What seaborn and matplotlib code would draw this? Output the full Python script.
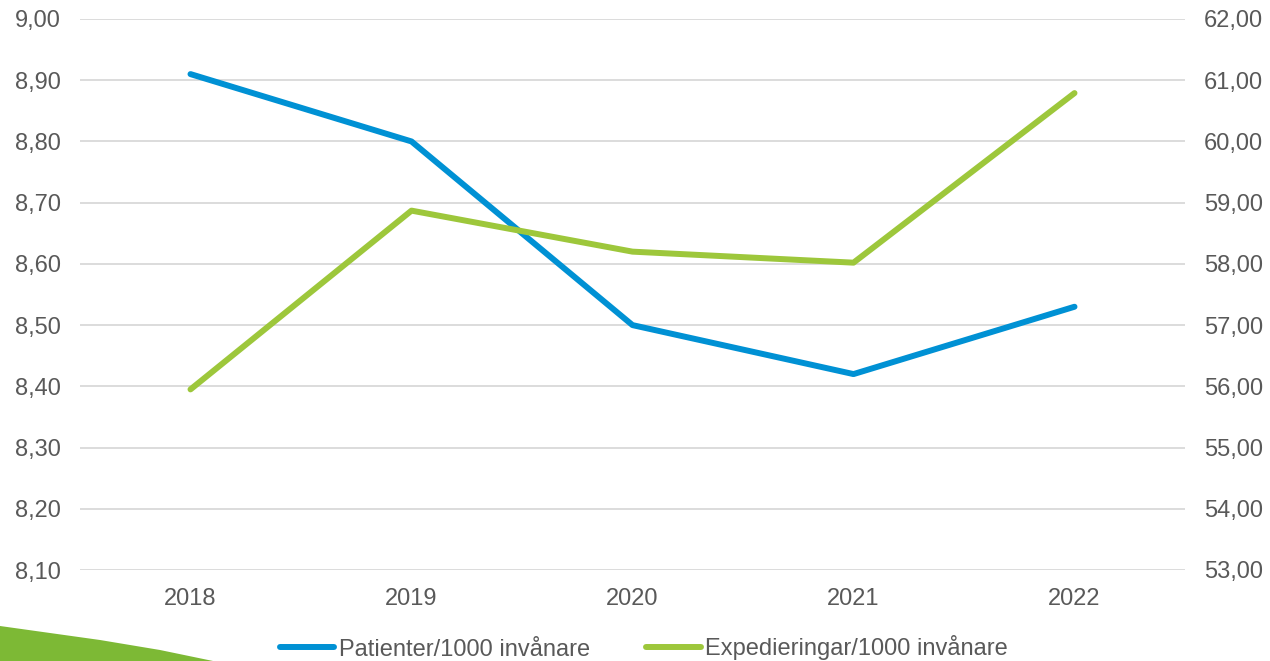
import matplotlib
matplotlib.use("Agg")
import matplotlib.pyplot as plt
import seaborn as sns
import pandas as pd
from matplotlib.patches import Polygon
from matplotlib.lines import Line2D
from matplotlib.ticker import FuncFormatter

years = ["2018", "2019", "2020", "2021", "2022"]
patienter = [8.91, 8.80, 8.50, 8.42, 8.53]
expedieringar = [55.95, 58.87, 58.20, 58.02, 60.79]
label_pat = "Patienter/1000 invånare"
label_exp = "Expedieringar/1000 invånare"

sns.set_theme(style="white")
plt.rcParams['font.family'] = ['Liberation Sans', 'DejaVu Sans']

blue = "#0091D4"
green = "#9DC73B"
text_col = "#595959"
grid_col = "#D9D9D9"
fs = 17
lw = 4.3

fig = plt.figure(figsize=(12.7, 6.61), dpi=100)
ax = fig.add_axes([80/1270, 1-570/661, (1185-80)/1270, (570-19)/661])
ax2 = ax.twinx()

df = pd.DataFrame({"x": range(len(years)), "pat": patienter, "exp": expedieringar})
sns.lineplot(data=df, x="x", y="pat", ax=ax, color=blue, linewidth=lw, legend=False)
sns.lineplot(data=df, x="x", y="exp", ax=ax2, color=green, linewidth=lw, legend=False)
for l in ax.lines + ax2.lines:
    l.set_solid_capstyle("round")
    l.set_solid_joinstyle("round")

ax.set_xlim(-0.5, len(years) - 0.5)
ax.set_ylim(8.10, 9.00)
ax2.set_ylim(53, 62)
ax.set_yticks([8.1 + 0.1*i for i in range(10)])
ax2.set_yticks(list(range(53, 63)))
fmt = FuncFormatter(lambda v, p: f"{v:.2f}".replace(".", ","))
ax.yaxis.set_major_formatter(fmt)
ax2.yaxis.set_major_formatter(fmt)
ax.set_xticks(range(len(years)))
ax.set_xticklabels(years)
ax.set_xlabel("")
ax.set_ylabel("")
ax2.set_ylabel("")

ax.yaxis.grid(True, color=grid_col, linewidth=1.3)
ax.set_axisbelow(True)
for a in (ax, ax2):
    for s in a.spines.values():
        s.set_visible(False)
    a.tick_params(axis="both", length=0, labelsize=fs, colors=text_col)
ax.tick_params(axis="y", pad=14)
ax2.tick_params(axis="y", pad=13.5)
ax.tick_params(axis="x", pad=13)

handles = [Line2D([], [], color=blue, linewidth=lw, solid_capstyle="round"),
           Line2D([], [], color=green, linewidth=lw, solid_capstyle="round")]
leg = fig.legend(handles, [label_pat, label_exp], loc="center", bbox_to_anchor=(0.507, 1-648/661),
                 ncol=2, frameon=False, fontsize=fs, handlelength=2.3, handletextpad=0.2,
                 columnspacing=2.4, borderpad=0, borderaxespad=0)
for t in leg.get_texts():
    t.set_color(text_col)

deco_px = [(0, 626), (100, 640), (160, 650), (213, 661), (0, 661)]
poly = Polygon([(x/1270, 1 - y/661) for x, y in deco_px],
               closed=True, transform=fig.transFigure, facecolor="#7DB935", edgecolor="none")
fig.patches.append(poly)

fig.savefig("out.png", dpi=100)
